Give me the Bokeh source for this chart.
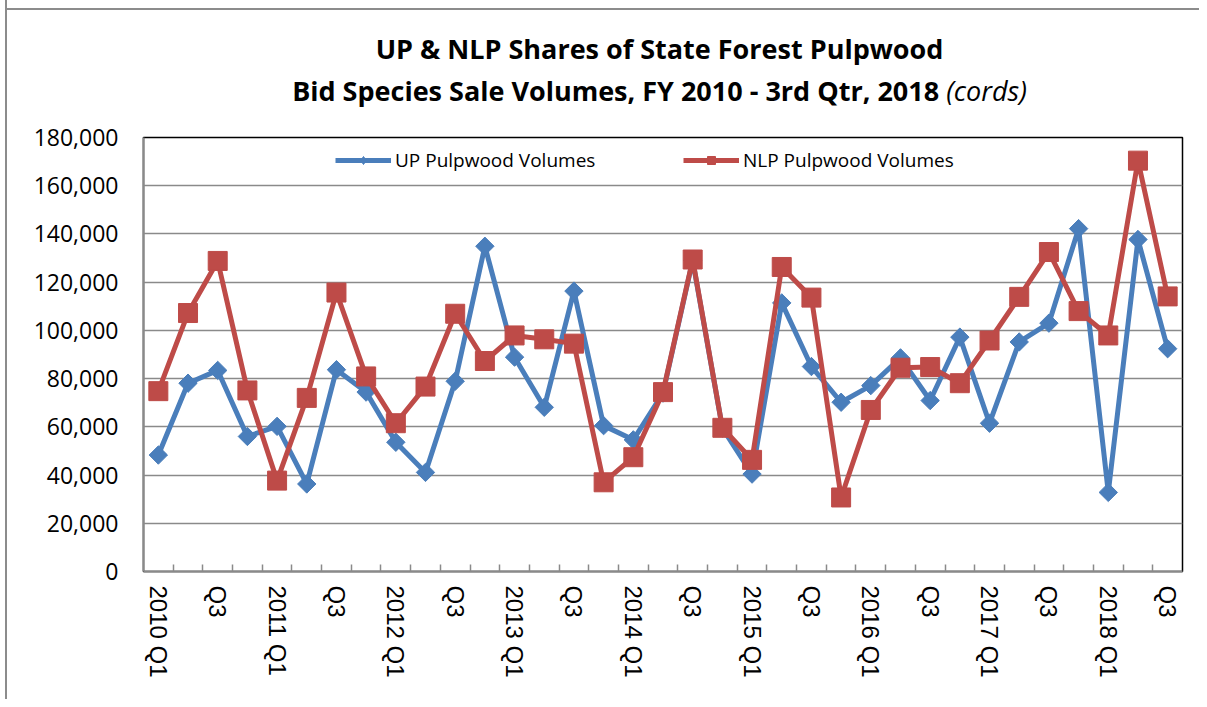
import math
from bokeh.plotting import figure
from bokeh.layouts import column
from bokeh.models import (ColumnDataSource, FixedTicker, NumeralTickFormatter, Range1d,
                          Legend, LegendItem, Div)
from bokeh.embed import file_html
from bokeh.resources import INLINE

# ---------------- data ----------------
quarters = [
    "2010 Q1", "Q2", "Q3", "Q4",
    "2011 Q1", "Q2", "Q3", "Q4",
    "2012 Q1", "Q2", "Q3", "Q4",
    "2013 Q1", "Q2", "Q3", "Q4",
    "2014 Q1", "Q2", "Q3", "Q4",
    "2015 Q1", "Q2", "Q3", "Q4",
    "2016 Q1", "Q2", "Q3", "Q4",
    "2017 Q1", "Q2", "Q3", "Q4",
    "2018 Q1", "Q2", "Q3",
]
up_volumes = [
    48300, 78100, 83400, 56000, 60200, 36300, 83700, 74400,
    53600, 41100, 78900, 134900, 88900, 68100, 116300, 60500,
    54600, 74000, 129000, 59500, 40400, 111400, 85000, 70200,
    77100, 88600, 70900, 97200, 61500, 95200, 103000, 142200,
    32800, 137700, 92400,
]
nlp_volumes = [
    74800, 107200, 128800, 75100, 37700, 72000, 115700, 80900,
    61500, 76700, 106900, 87300, 97900, 96300, 94500, 37000,
    47400, 74400, 129400, 59600, 46300, 126300, 113600, 30700,
    67000, 84500, 84800, 78100, 95800, 113900, 132500, 108000,
    97900, 170400, 114100,
]
y_ticks = [0, 20000, 40000, 60000, 80000, 100000, 120000, 140000, 160000, 180000]
title_line1 = "UP &amp; NLP Shares of State Forest Pulpwood"
title_line2 = "Bid Species Sale Volumes, FY 2010 - 3rd Qtr, 2018"
title_line2_italic = "(cords)"
series_names = ["UP Pulpwood Volumes", "NLP Pulpwood Volumes"]

BLUE = "#4A7EBB"
RED = "#BE4B48"
GRID = "#8A8A8A"
BORDER = "#8C8C8C"

idx = list(range(len(quarters)))
src = ColumnDataSource(dict(x=idx, up=up_volumes, nlp=nlp_volumes))

TITLE_H = 118
p = figure(width=1199, height=699 - TITLE_H, output_backend="svg", toolbar_location=None,
           x_range=Range1d(-0.5, len(quarters) - 0.5), y_range=Range1d(0, 180000),
           min_border_left=143, min_border_right=17, min_border_top=137 - TITLE_H,
           min_border_bottom=128, margin=(0, 0, 0, 0))
p.title = None
p.outline_line_color = "black"
p.outline_line_width = 1.5
p.background_fill_color = "white"
p.border_fill_alpha = 0

# grid
p.xgrid.grid_line_color = None
p.ygrid.grid_line_color = GRID
p.ygrid.grid_line_width = 1.6

# y axis
p.yaxis.ticker = FixedTicker(ticks=y_ticks)
p.yaxis.formatter = NumeralTickFormatter(format="0,0")
p.yaxis.major_label_text_font = "Open Sans"
p.yaxis.major_label_text_font_size = "23px"
p.yaxis.major_label_text_color = "black"
p.yaxis.major_tick_out = 0
p.yaxis.major_tick_in = 0
p.yaxis.minor_tick_out = 0
p.yaxis.minor_tick_in = 0
p.yaxis.major_label_standoff = 25
p.yaxis.axis_line_color = GRID
p.yaxis.axis_line_width = 2

# x axis
label_idx = [i for i in idx if i % 2 == 0]
p.xaxis.ticker = FixedTicker(ticks=label_idx, minor_ticks=[i + 0.5 for i in idx[:-1]])
p.xaxis.major_label_overrides = {i: quarters[i] for i in label_idx}
p.xaxis.major_label_orientation = -math.pi / 2
p.xaxis.major_label_text_font = "Liberation Sans"
p.xaxis.major_label_text_font_size = "24px"
p.xaxis.major_label_text_color = "black"
p.xaxis.major_tick_out = 0
p.xaxis.major_tick_in = 0
p.xaxis.minor_tick_in = 7
p.xaxis.minor_tick_out = 0
p.xaxis.minor_tick_line_color = GRID
p.xaxis.minor_tick_line_width = 1.5
p.xaxis.major_label_standoff = 14
p.xaxis.axis_line_color = GRID
p.xaxis.axis_line_width = 2

# series
p.line("x", "up", source=src, line_color=BLUE, line_width=5)
p.scatter("x", "up", source=src, marker="square", angle=math.pi / 4, size=13,
          fill_color=BLUE, line_color=BLUE)
p.line("x", "nlp", source=src, line_color=RED, line_width=5)
p.scatter("x", "nlp", source=src, marker="square", size=19,
          fill_color=RED, line_color=RED)

# legend-only glyphs (smaller markers as in reference)
nan = float("nan")
empty = ColumnDataSource(dict(x=[nan], y=[nan]))
lg_up_line = p.line("x", "y", source=empty, line_color=BLUE, line_width=5)
lg_up_mark = p.scatter("x", "y", source=empty, marker="diamond", size=12,
                       fill_color=BLUE, line_color=BLUE)
lg_nlp_line = p.line("x", "y", source=empty, line_color=RED, line_width=5)
lg_nlp_mark = p.scatter("x", "y", source=empty, marker="square", size=12,
                        fill_color=RED, line_color=RED)

def make_legend(name, rends, loc):
    lg = Legend(items=[LegendItem(label=name, renderers=rends)], location=loc,
                orientation="horizontal", border_line_color=None,
                background_fill_alpha=0, padding=0, margin=0, spacing=0,
                glyph_width=56, glyph_height=20, label_height=20, label_standoff=4,
                label_text_font="Open Sans", label_text_font_size="19px",
                label_text_color="black")
    p.add_layout(lg, "center")

make_legend(series_names[0], [lg_up_line, lg_up_mark], (192, 398))
make_legend(series_names[1], [lg_nlp_line, lg_nlp_mark], (540, 398))

# title block (two lines, second line has an italic unit)
title_html = (
    f'<div style="position:relative; width:1199px; height:{TITLE_H}px; '
    f'font-family:\'Open Sans\'; color:black;">'
    f'<div style="position:absolute; left:5px; top:8px; width:1194px; height:0px; '
    f'border-top:2px solid {BORDER};"></div>'
    f'<div style="position:absolute; left:120px; top:28px; width:1079px; text-align:center; '
    f'font-size:27px; font-weight:bold; line-height:42px; white-space:nowrap;">'
    f'{title_line1}<br>{title_line2} '
    f'<i style="font-weight:normal;">{title_line2_italic}</i></div></div>'
)
title_div = Div(text=title_html, width=1199, height=TITLE_H, margin=(0, 0, 0, 0))

# outer chart-area left border drawn as a background strip behind the transparent canvas
layout = column(title_div, p, spacing=0,
                styles={"background": f"linear-gradient(to right, transparent 5px, {BORDER} 5px, "
                                      f"{BORDER} 7px, transparent 7px)"})
open("out.html", "w").write(file_html(layout, INLINE))
